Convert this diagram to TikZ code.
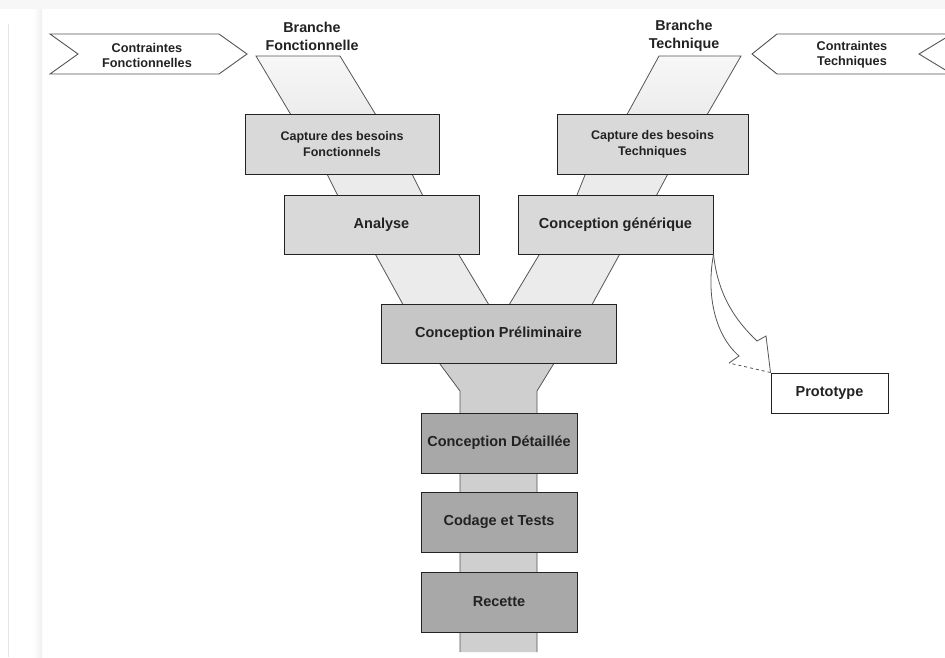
\documentclass[tikz,border=0pt]{standalone}
\usepackage{fontspec}
\setmainfont{Liberation Sans}

\definecolor{boxgray}{HTML}{D9D9D9}
\definecolor{bandgray}{HTML}{EBEBEB}
\definecolor{prelimgray}{HTML}{C6C6C6}
\definecolor{stemgray}{HTML}{CFCFCF}
\definecolor{lowgray}{HTML}{A8A8A8}
\definecolor{edgegray}{HTML}{555555}
\definecolor{inkgray}{HTML}{222222}

\tikzstyle{phase}=[draw=inkgray, line width=1pt, fill=boxgray, text=inkgray, font=\bfseries\fontsize{14.5}{17}\selectfont, align=center, inner sep=0pt]
\tikzstyle{capture}=[phase, font=\bfseries\fontsize{12.5}{16}\selectfont]
\tikzstyle{branchlabel}=[text=inkgray, font=\bfseries\fontsize{14.3}{18}\selectfont, align=center, inner sep=0pt]
\tikzstyle{constraint}=[text=inkgray, font=\bfseries\fontsize{12.7}{15}\selectfont, align=center, inner sep=0pt]
\tikzstyle{bandedge}=[draw=edgegray, line width=0.8pt]

\begin{document}
\begin{tikzpicture}[x=1pt,y=-1pt]
\useasboundingbox (0,0) rectangle (945,657);
% page background
\fill[white] (0,0) rectangle (945,657);
\fill[gray!6] (0,0) rectangle (945,9);
\shade[left color=white, right color=gray!12] (33,9) rectangle (42,657);
\draw[gray!20, line width=0.6pt] (8,24) -- (8,657);

% left branch bands
\shade[top color=white!97!black, bottom color=bandgray] (256,56) -- (340,56) -- (379,120) -- (294,120) -- cycle;
\draw[bandedge] (294,120) -- (256,56) -- (340,56) -- (379,120);
\fill[bandgray] (325,170) -- (410,170) -- (425,200) -- (340,200) -- cycle;
\draw[bandedge] (325,170) -- (340,200);
\draw[bandedge] (410,170) -- (425,200);
\fill[bandgray] (373,250) -- (456,250) -- (492,310) -- (406,310) -- cycle;
\draw[bandedge] (373,250) -- (406,310);
\draw[bandedge] (456,250) -- (492,310);

% right branch bands
\shade[top color=white!97!black, bottom color=bandgray] (659,56) -- (741,56) -- (704,120) -- (624,120) -- cycle;
\draw[bandedge] (624,120) -- (659,56) -- (741,56) -- (704,120);
\fill[bandgray] (587,170) -- (670,170) -- (654,200) -- (575,200) -- cycle;
\draw[bandedge] (587,170) -- (575,200);
\draw[bandedge] (670,170) -- (654,200);
\fill[bandgray] (542,250) -- (622,250) -- (589,310) -- (506,310) -- cycle;
\draw[bandedge] (542,250) -- (506,310);
\draw[bandedge] (622,250) -- (589,310);

% stem
\fill[stemgray] (437,360) -- (556,360) -- (537,391) -- (537,652) -- (460,652) -- (460,391) -- cycle;
\draw[bandedge] (437,360) -- (460,391) -- (460,652);
\draw[bandedge] (556,360) -- (537,391) -- (537,652);

% phases
\node[capture, minimum width=194, minimum height=60] (captF) at (342,144) {Capture des besoins\\Fonctionnels};
\node[capture, minimum width=191, minimum height=60] (captT) at (652.5,144) {Capture des besoins\\Techniques};
\node[phase, minimum width=195, minimum height=59] (analyse) at (381.5,224.5) {Analyse};
\node[phase, minimum width=195, minimum height=59] (generique) at (615.5,224.5) {Conception générique};
\node[phase, fill=prelimgray, minimum width=235, minimum height=59] (prelim) at (498.5,333.5) {Conception Préliminaire};
\node[phase, fill=lowgray, minimum width=156, minimum height=60] (detail) at (499,443) {Conception Détaillée};
\node[phase, fill=lowgray, minimum width=156, minimum height=60] (codage) at (499,522) {Codage et Tests};
\node[phase, fill=lowgray, minimum width=156, minimum height=60] (recette) at (499,602) {Recette};
\node[phase, fill=white, minimum width=117, minimum height=40] (proto) at (829.5,393) {Prototype};

% branch labels
\node[branchlabel] (brF) at (312,36) {Branche\\Fonctionnelle};
\node[branchlabel] (brT) at (684,36) {Branche\\Technique};

% constraints
\draw[edgegray, line width=0.9pt, fill=white] (50,34) -- (219,34) -- (247,54) -- (219,74) -- (50,74) -- (78,54) -- cycle;
\node[constraint] (ctrF) at (147,55.5) {Contraintes\\Fonctionnelles};
\draw[edgegray, line width=0.9pt, fill=white] (752,54) -- (777,34) -- (952,34) -- (919,54) -- (952,74) -- (777,74) -- cycle;
\node[constraint] (ctrT) at (852,55) {Contraintes\\Techniques};

% prototype arrow
\fill[white] (generique.south east) .. controls (718,295) and (735,320) .. (757,341) -- (766,336) -- (proto.north west) -- (729,363) -- (739,356) .. controls (715,335) and (706,295) .. (generique.south east);
\draw[edgegray, line width=0.8pt] (generique.south east) .. controls (718,295) and (735,320) .. (757,341) -- (766,336) -- (proto.north west);
\draw[edgegray, line width=0.8pt] (729,363) -- (739,356) .. controls (715,335) and (706,295) .. (generique.south east);
\draw[edgegray, line width=0.8pt, dashed] (proto.north west) -- (729,363);
\end{tikzpicture}
\end{document}
